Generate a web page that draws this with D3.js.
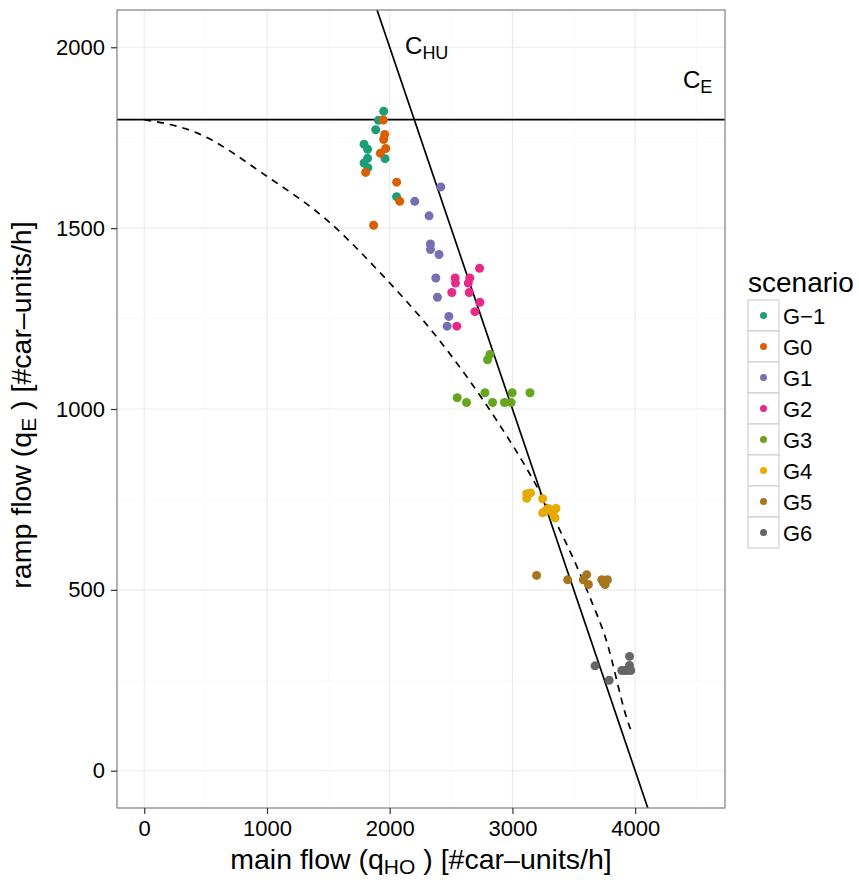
<!DOCTYPE html>
<html>
<head>
  <style>
    body {
      margin: 0;
      background: #fff;
      font-family: "Liberation Sans", Arial, sans-serif;
    }
    .tick text {
      fill: #000;
    }
    .tick line {
      stroke: #333;
    }
  </style>
</head>
<body>
  <script src="https://d3js.org/d3.v7.min.js"></script>
  <script>
    // scenario names and their points (main flow, ramp flow)
    var groups = ["G\u22121", "G0", "G1", "G2", "G3", "G4", "G5", "G6"];

    var gM1 = [[1951,1823],[1908,1798],[1886,1772],[1791,1732],[1820,1718],[1820,1693],[1791,1680],[1822,1667],[1962,1692],[2056,1587]];
    var g0 = [[1948,1799],[1959,1759],[1951,1745],[1967,1720],[1924,1707],[1804,1654],[2057,1627],[2082,1574],[1869,1508]];
    var g1 = [[2416,1614],[2204,1574],[2321,1534],[2332,1456],[2332,1441],[2402,1427],[2376,1362],[2389,1309],[2482,1256],[2468,1229]];
    var g2 = [[2732,1389],[2533,1362],[2536,1348],[2653,1362],[2640,1348],[2506,1322],[2648,1322],[2735,1295],[2694,1269],[2547,1229]];
    var g3 = [[2816,1151],[2797,1136],[2550,1031],[2626,1018],[2776,1045],[2838,1018],[2935,1018],[2990,1018],[2998,1045],[3143,1045]];
    var g4 = [[3116,766],[3148,768],[3116,753],[3246,752],[3355,725],[3246,713],[3293,725],[3347,699],[3268,718],[3330,712]];
    var g5 = [[3197,540],[3450,528],[3605,542],[3578,528],[3619,515],[3728,528],[3774,528],[3755,515],[3742,520]];
    var g6 = [[3954,316],[3954,291],[3673,290],[3891,277],[3932,277],[3964,277],[3788,250],[3912,277]];
    var groupData = [gM1, g0, g1, g2, g3, g4, g5, g6];

    // dashed reference curve
    var curve = [[0,1800],[424,1764],[996,1644],[1513,1515],[1921,1377],[2367,1206],[2884,962],[3129,828],[3633,478],[3755,371],[3959,118],[3975,105]];

    // capacities: C_E horizontal, C_HU line x + y = 4000
    var capE = 1800;
    var capHU = [[1800,2200],[4200,-200]];

    var xTicks = [0, 1000, 2000, 3000, 4000];
    var yTicks = [0, 500, 1000, 1500, 2000];
    var xMinor = [500, 1500, 2500, 3500, 4500];
    var yMinor = [250, 750, 1250, 1750];

    var colors = ["#1B9E77", "#D95F02", "#7570B3", "#E7298A", "#66A61E", "#E6AB02", "#A6761D", "#666666"];

    var W = 859, H = 883;
    var margin = {top: 10, right: 134, bottom: 75, left: 117};
    var width = W - margin.left - margin.right, height = H - margin.top - margin.bottom;

    var svg = d3.select("body").append("svg")
        .attr("width", W)
        .attr("height", H);

    var defs = svg.append("defs");
    defs.append("clipPath").attr("id", "clip")
      .append("rect").attr("width", width).attr("height", height);

    var g = svg.append("g")
        .attr("transform", "translate(" + margin.left + "," + margin.top + ")");

    var x = d3.scaleLinear().domain([-222, 4732]).range([0, width]);
    var y = d3.scaleLinear().domain([-103, 2103]).range([height, 0]);

    // grid
    g.selectAll(".minor-x").data(xMinor).enter().append("line")
        .attr("x1", x).attr("x2", x).attr("y1", 0).attr("y2", height)
        .attr("stroke", "#fafafa").attr("stroke-width", 1);
    g.selectAll(".minor-y").data(yMinor).enter().append("line")
        .attr("y1", y).attr("y2", y).attr("x1", 0).attr("x2", width)
        .attr("stroke", "#fafafa").attr("stroke-width", 1);
    g.selectAll(".major-x").data(xTicks).enter().append("line")
        .attr("x1", x).attr("x2", x).attr("y1", 0).attr("y2", height)
        .attr("stroke", "#ebebeb").attr("stroke-width", 1.2);
    g.selectAll(".major-y").data(yTicks).enter().append("line")
        .attr("y1", y).attr("y2", y).attr("x1", 0).attr("x2", width)
        .attr("stroke", "#ebebeb").attr("stroke-width", 1.2);

    var plot = g.append("g").attr("clip-path", "url(#clip)");

    // capacity lines
    plot.append("line")
        .attr("x1", 0).attr("x2", width)
        .attr("y1", y(capE)).attr("y2", y(capE))
        .attr("stroke", "#000").attr("stroke-width", 1.7);

    plot.append("path")
        .datum(capHU)
        .attr("d", d3.line().x(function(d){ return x(d[0]); }).y(function(d){ return y(d[1]); }))
        .attr("fill", "none").attr("stroke", "#000").attr("stroke-width", 1.7);

    plot.append("path")
        .datum(curve)
        .attr("d", d3.line().curve(d3.curveMonotoneX).x(function(d){ return x(d[0]); }).y(function(d){ return y(d[1]); }))
        .attr("fill", "none").attr("stroke", "#000").attr("stroke-width", 1.7)
        .attr("stroke-dasharray", "7,6");

    // points
    groupData.forEach(function(pts, i){
      plot.selectAll(".pt" + i).data(pts).enter().append("circle")
          .attr("cx", function(d){ return x(d[0]); })
          .attr("cy", function(d){ return y(d[1]); })
          .attr("r", 4.5)
          .attr("fill", colors[i]);
    });

    // labels for capacities
    function subLabel(sel, main, sub, px, py, size) {
      var t = sel.append("text").attr("x", px).attr("y", py).attr("font-size", size).attr("fill", "#000");
      t.append("tspan").text(main);
      t.append("tspan").attr("font-size", size * 0.75).attr("dy", 5).text(sub);
      return t;
    }
    subLabel(g, "C", "HU", x(2125), y(2000) + 7, 24);
    subLabel(g, "C", "E", x(4389), y(1887), 24);

    // panel border
    g.append("rect")
        .attr("width", width).attr("height", height)
        .attr("fill", "none").attr("stroke", "#7f7f7f").attr("stroke-width", 1.2);

    // axes
    var xAxis = g.append("g")
        .attr("transform", "translate(0," + height + ")")
        .call(d3.axisBottom(x).tickValues(xTicks).tickSize(6).tickPadding(6).tickFormat(d3.format("d")));
    var yAxis = g.append("g")
        .call(d3.axisLeft(y).tickValues(yTicks).tickSize(6).tickPadding(6).tickFormat(d3.format("d")));
    [xAxis, yAxis].forEach(function(a){
      a.select(".domain").remove();
      a.selectAll(".tick text").attr("font-size", 22).attr("font-family", "Liberation Sans, Arial, sans-serif");
      a.selectAll(".tick line").attr("stroke-width", 1.2);
    });

    // axis titles
    var xt = svg.append("text")
        .attr("x", margin.left + width / 2).attr("y", 869)
        .attr("text-anchor", "middle").attr("font-size", 28.5);
    xt.append("tspan").text("main flow (q");
    xt.append("tspan").attr("font-size", 21).attr("dy", 5).text("HO");
    xt.append("tspan").attr("dy", -5).text(" ) [#car\u2013units/h]");

    var yt = svg.append("text")
        .attr("transform", "translate(31," + (margin.top + height / 2 - 4) + ") rotate(-90)")
        .attr("text-anchor", "middle").attr("font-size", 28.5);
    yt.append("tspan").text("ramp flow (q");
    yt.append("tspan").attr("font-size", 21).attr("dy", 5).text("E");
    yt.append("tspan").attr("dy", -5).text(" ) [#car\u2013units/h]");

    // legend
    var leg = svg.append("g").attr("transform", "translate(748,0)");
    leg.append("text").attr("x", 0).attr("y", 292).attr("font-size", 28).text("scenario");
    var keyH = 31;
    var item = leg.selectAll(".key").data(groups).enter().append("g")
        .attr("transform", function(d, i){ return "translate(0," + (300 + i * keyH) + ")"; });
    item.append("rect")
        .attr("width", 31).attr("height", keyH)
        .attr("fill", "#fff").attr("stroke", "#d0d0d0").attr("stroke-width", 1.2);
    item.append("circle")
        .attr("cx", 15.5).attr("cy", keyH / 2).attr("r", 3.5)
        .attr("fill", function(d, i){ return colors[i]; });
    item.append("text")
        .attr("x", 35).attr("y", keyH / 2 + 8).attr("font-size", 22)
        .text(function(d){ return d; });
  </script>
</body>
</html>
